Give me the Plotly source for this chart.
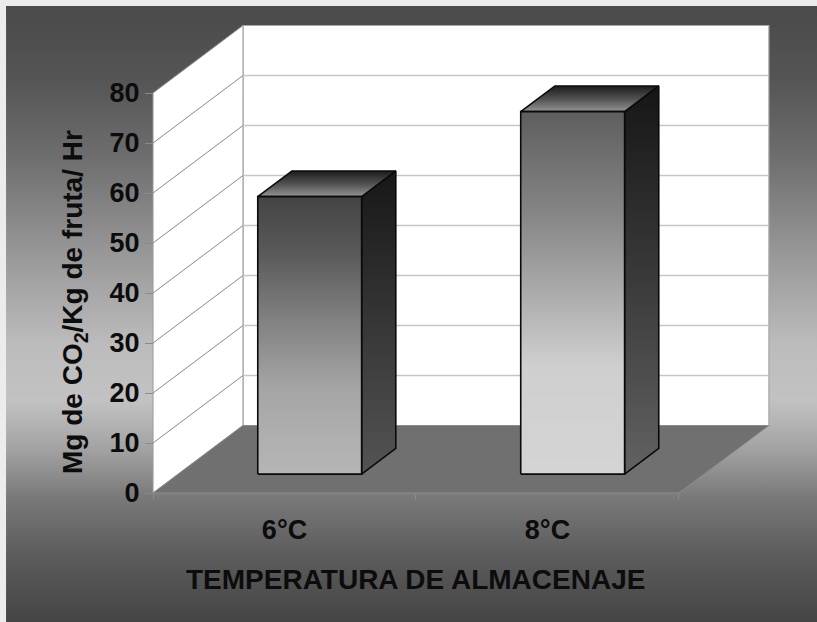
import plotly.graph_objects as go

# ---- data ----
categories = ["6°C", "8°C"]
values = [55.5, 72.5]
ytick_values = [0, 10, 20, 30, 40, 50, 60, 70, 80]
x_title = "TEMPERATURA DE ALMACENAJE"
y_title = "Mg de CO<sub>2</sub>/Kg de fruta/ Hr"

# ---- oblique 3-D geometry, all in data units ----
X_LO, X_HI = -0.5, len(categories) - 0.5   # category span on the front plane
Y_MAX = ytick_values[-1]
DEPTH_DX, DEPTH_DY = 0.342, 13.5           # shift produced by the full floor depth
BAR_W = 0.395
BAR_Z0, BAR_Z1 = 0.28, 0.66                # bar front / back depth (fraction)

X_RANGE = [-1.082, 2.025]
Y_RANGE = [-25.8, 98.6]

FONT = "Liberation Sans, Arial, sans-serif"
INK = "#0c0c0c"


def proj(x, y, z):
    return x + z * DEPTH_DX, y + z * DEPTH_DY


def poly(points, fill_scale, line_color, line_width, name):
    xs = [p[0] for p in points] + [points[0][0]]
    ys = [p[1] for p in points] + [points[0][1]]
    kw = dict(x=xs, y=ys, mode="lines", fill="toself", name=name,
              line=dict(color=line_color, width=line_width),
              hoverinfo="skip", showlegend=False)
    if isinstance(fill_scale, str):
        kw["fillcolor"] = fill_scale
    else:
        kw["fillgradient"] = dict(type="vertical", colorscale=fill_scale)
    return go.Scatter(**kw)


fig = go.Figure()

# chart-area backdrop
bg_x0 = -1.059
bg_y1 = 97.4
fig.add_trace(poly(
    [(bg_x0, Y_RANGE[0]), (X_RANGE[1], Y_RANGE[0]), (X_RANGE[1], bg_y1), (bg_x0, bg_y1)],
    [[0.0, "#454545"], [0.10, "#5a5a5a"], [0.20, "#787878"], [0.28, "#a2a2a2"],
     [0.36, "#c2c2c2"], [0.45, "#bcbcbc"], [0.60, "#979797"], [0.75, "#6f6f6f"],
     [0.88, "#555555"], [1.0, "#4a4a4a"]],
    "rgba(0,0,0,0)", 0, "backdrop"))

# walls and floor
floor = [proj(X_LO, 0, 0), proj(X_HI, 0, 0), proj(X_HI, 0, 1), proj(X_LO, 0, 1)]
left_wall = [proj(X_LO, 0, 0), proj(X_LO, Y_MAX, 0), proj(X_LO, Y_MAX, 1), proj(X_LO, 0, 1)]
back_wall = [proj(X_LO, 0, 1), proj(X_HI, 0, 1), proj(X_HI, Y_MAX, 1), proj(X_LO, Y_MAX, 1)]

fig.add_trace(poly(back_wall, "#ffffff", "#a8a8a8", 1.2, "back wall"))
fig.add_trace(poly(left_wall, "#ffffff", "#9a9a9a", 1.0, "side wall"))
fig.add_trace(poly(floor, "#707070", "#8c8c8c", 1.0, "floor"))

# gridlines on the back wall and the side wall
for v in ytick_values[1:-1]:
    bx0, by0 = proj(X_LO, v, 1)
    bx1, by1 = proj(X_HI, v, 1)
    fig.add_trace(go.Scatter(x=[bx0, bx1], y=[by0, by1], mode="lines",
                             line=dict(color="#c6c6c6", width=1.5),
                             hoverinfo="skip", showlegend=False))
    sx0, sy0 = proj(X_LO, v, 0)
    fig.add_trace(go.Scatter(x=[sx0, bx0], y=[sy0, by0], mode="lines",
                             line=dict(color="#8a8a8a", width=1),
                             hoverinfo="skip", showlegend=False))

# bar shading per category: front, side, top
front_scales = [
    [[0.0, "#b6b6b6"], [0.3, "#a6a6a6"], [0.55, "#828282"], [0.8, "#595959"], [1.0, "#444444"]],
    [[0.0, "#d4d4d4"], [0.3, "#cfcfcf"], [0.5, "#ababab"], [0.72, "#858585"], [1.0, "#5e5e5e"]],
]
side_scales = [
    [[0.0, "#545454"], [0.5, "#363636"], [1.0, "#171717"]],
    [[0.0, "#626262"], [0.5, "#3a3a3a"], [1.0, "#161616"]],
]
top_scale = [[0.0, "#959595"], [0.5, "#505050"], [1.0, "#1c1c1c"]]

for i, (cat, val) in enumerate(zip(categories, values)):
    xl, xr = i - BAR_W / 2, i + BAR_W / 2
    front = [proj(xl, 0, BAR_Z0), proj(xr, 0, BAR_Z0), proj(xr, val, BAR_Z0), proj(xl, val, BAR_Z0)]
    side = [proj(xr, 0, BAR_Z0), proj(xr, 0, BAR_Z1), proj(xr, val, BAR_Z1), proj(xr, val, BAR_Z0)]
    top = [proj(xl, val, BAR_Z0), proj(xr, val, BAR_Z0), proj(xr, val, BAR_Z1), proj(xl, val, BAR_Z1)]
    fig.add_trace(poly(side, side_scales[i], "#0a0a0a", 1.6, cat))
    fig.add_trace(poly(top, top_scale, "#0a0a0a", 1.6, cat))
    fig.add_trace(poly(front, front_scales[i], "#0a0a0a", 1.6, cat))

fig.update_layout(
    width=817, height=622,
    margin=dict(l=0, r=0, t=0, b=0),
    paper_bgcolor="#ececec",
    plot_bgcolor="rgba(0,0,0,0)",
    hovermode=False,
    showlegend=False,
    xaxis=dict(
        range=X_RANGE, domain=[0, 1], anchor="free",
        position=(0 - Y_RANGE[0]) / (Y_RANGE[1] - Y_RANGE[0]),
        tickmode="array", tickvals=list(range(len(categories))), ticktext=categories,
        ticks="", showgrid=False, zeroline=False, showline=False,
        tickfont=dict(family=FONT, size=27, color=INK, weight="bold"),
        ticklabelstandoff=18,
        minor=dict(tickmode="array",
                   tickvals=[X_LO + k for k in range(len(categories) + 1)],
                   ticks="outside", ticklen=6, tickcolor="#8a8a8a", tickwidth=1,
                   showgrid=False),
    ),
    yaxis=dict(
        range=Y_RANGE, domain=[0, 1], anchor="free",
        position=(X_LO - X_RANGE[0]) / (X_RANGE[1] - X_RANGE[0]),
        tickmode="array", tickvals=ytick_values,
        ticks="outside", ticklen=8, tickcolor="#8a8a8a", tickwidth=1,
        showgrid=False, zeroline=False, showline=False,
        tickfont=dict(family=FONT, size=27, color=INK, weight="bold"),
    ),
    annotations=[
        dict(text=x_title, xref="x", yref="paper", x=0.5, y=(622 - 579) / 622,
             showarrow=False, xanchor="center", yanchor="middle",
             font=dict(family=FONT, size=28, color=INK, weight="bold")),
        dict(text=y_title, xref="paper", yref="paper", x=74 / 817, y=(622 - 302) / 622,
             showarrow=False, textangle=-90, xanchor="center", yanchor="middle",
             font=dict(family=FONT, size=28, color=INK, weight="bold")),
    ],
)

fig.write_html("out.html")
